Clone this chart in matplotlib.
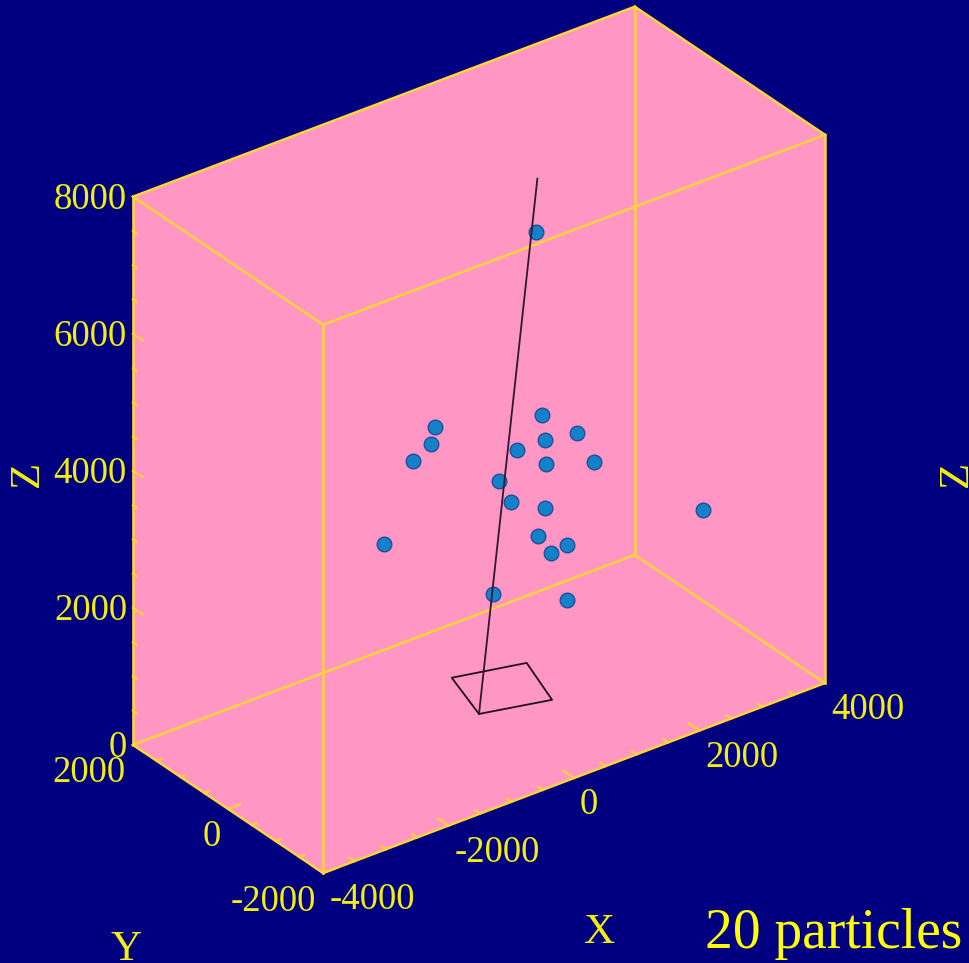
import itertools

import numpy as np
import matplotlib.pyplot as plt
from matplotlib.transforms import offset_copy
from mpl_toolkits.mplot3d import proj3d
from mpl_toolkits.mplot3d.art3d import Poly3DCollection

# particle hits (x, y, z)
hit_x = [908, 1004, -701, 1562, 1052, -765, 606, -1052, 1068, 1833,
         319, 510, 1052, 3570, 940, -1514, 1402, 1147, 223, 1402]
hit_y = [0] * 20
hit_z = [6721, 4018, 4434, 3561, 3635, 4207, 3644, 4058, 3279, 3044,
         3291, 2918, 2642, 1740, 2273, 3007, 1981, 1953, 1675, 1178]

# shower axis from the core up to the top of the volume
track_x = [0, 400]
track_y = [0, -700]
track_z = [0, 8000]

# detector outline on the ground
det_x = [0, 960, 1260, 270, 0]
det_y = [0, -270, 660, 930, 0]
det_z = [0, 0, 0, 0, 0]

xlim = (-4000, 4000)
ylim = (-2000, 2000)
zlim = (0, 8000)
xticks = [-4000, -2000, 0, 2000, 4000]
yticks = [-2000, 0, 2000]
zticks = [0, 2000, 4000, 6000, 8000]
minor_step = 500

caption = "20 particles"

NAVY = "#000080"
PINK = "#ff96c4"
GOLD = "#ffd43a"
YELLOW = "#ffff00"
LABEL = "#f2ee10"
W, H = 969, 963

if __name__ == "__main__":
    plt.rcParams['font.family'] = ['Liberation Serif', 'DejaVu Serif']

    fig = plt.figure(figsize=(W / 100, H / 100), dpi=100, facecolor=NAVY)
    ax = fig.add_axes([0.02, 0.02, 0.96, 0.96], projection='3d',
                      proj_type='ortho', computed_zorder=False)
    ax.set_facecolor(NAVY)
    ax.set_xlim(*xlim)
    ax.set_ylim(*ylim)
    ax.set_zlim(*zlim)
    ax.set_box_aspect((627, 317, 635))
    ax.view_init(elev=30.33, azim=-126.86)
    ax.set_axis_off()

    x0, x1 = xlim
    y0, y1 = ylim
    z0, z1 = zlim

    # the three back walls cover the whole silhouette
    faces = [
        [(x1, y0, z0), (x1, y1, z0), (x1, y1, z1), (x1, y0, z1)],
        [(x0, y1, z0), (x1, y1, z0), (x1, y1, z1), (x0, y1, z1)],
        [(x0, y0, z0), (x1, y0, z0), (x1, y1, z0), (x0, y1, z0)],
    ]
    ax.add_collection3d(Poly3DCollection(faces, facecolor=PINK,
                                         edgecolor=PINK, linewidth=0.6,
                                         zorder=1))

    corners = list(itertools.product(xlim, ylim, zlim))
    for a, b in itertools.combinations(corners, 2):
        if sum(p != q for p, q in zip(a, b)) == 1:
            ax.plot(*zip(a, b), color=GOLD, lw=1.8, zorder=2)

    # ticks point into the box
    for v in np.arange(x0, x1 + 1, minor_step):
        L = 230 if v in xticks else 100
        ax.plot([v, v], [y0, y0 + L], [z0, z0], color=GOLD, lw=1.6, zorder=2)
    for v in np.arange(y0, y1 + 1, minor_step):
        L = 190 if v in yticks else 80
        ax.plot([x0, x0 + L], [v, v], [z0, z0], color=GOLD, lw=1.6, zorder=2)
    for v in np.arange(z0, z1 + 1, minor_step):
        L = 200 if v in zticks else 90
        ax.plot([x0, x0], [y1, y1 - L], [v, v], color=GOLD, lw=1.6, zorder=2)

    ax.plot(det_x, det_y, det_z, color="#201018", lw=1.3, zorder=3)
    ax.plot(hit_x, hit_y, hit_z, 'o', ls='none', ms=10.5, mfc="#1482c8",
            mec="#1a4fa0", mew=1.0, zorder=3)
    ax.plot(track_x, track_y, track_z, color="#301830", lw=1.3, zorder=4)

    def tick_label(x, y, z, s, dx, dy, ha):
        tr = offset_copy(ax.transData, fig=fig, x=dx, y=dy, units='dots')
        ax.text(x, y, z, s, transform=tr, ha=ha, va='baseline',
                fontsize=26.5, color=LABEL)

    for v in zticks:
        tick_label(x0, y1, v, str(v), -6, -12.5, 'right')
    for v in yticks:
        tick_label(x0, v, z0, str(v), -7, -37.5, 'right')
    for v in xticks:
        tick_label(v, y0, z0, str(v), 6, -36, 'left')

    # scale and shift the axes so the box lands where it should
    fig.canvas.draw()
    cx, cy, cz = (np.array(c, dtype=float) for c in zip(*corners))
    u, v, _ = proj3d.proj_transform(cx, cy, cz, ax.get_proj())
    pts = ax.transData.transform(np.column_stack([u, v]))
    bb = ax.get_position()
    c0x = (bb.x0 + bb.x1) / 2 * W
    c0y = (bb.y0 + bb.y1) / 2 * H
    k = (825 - 133) / (pts[:, 0].max() - pts[:, 0].min())
    ncx = 133 - k * (pts[:, 0].min() - c0x)
    ncy = (H - 873) - k * (pts[:, 1].min() - c0y)
    S = k * bb.width * W
    ax.set_position([(ncx - S / 2) / W, (ncy - S / 2) / H, S / W, S / H])

    def fig_text(x, y, s, **kw):
        fig.text(x / W, 1 - y / H, s, **kw)

    fig_text(600, 943, "X", fontsize=31, color=LABEL, ha='center',
             va='baseline')
    fig_text(126, 960, "Y", fontsize=31, color=LABEL, ha='center',
             va='baseline')
    fig_text(28, 474, "Z", fontsize=31, color=LABEL, ha='center',
             va='center', rotation=90)
    fig_text(957, 474, "Z", fontsize=31, color=LABEL, ha='center',
             va='center', rotation=90)
    fig_text(705, 948, caption, fontsize=40, color=YELLOW, ha='left',
             va='baseline')

    plt.savefig("out.png", dpi=100, facecolor=NAVY)
